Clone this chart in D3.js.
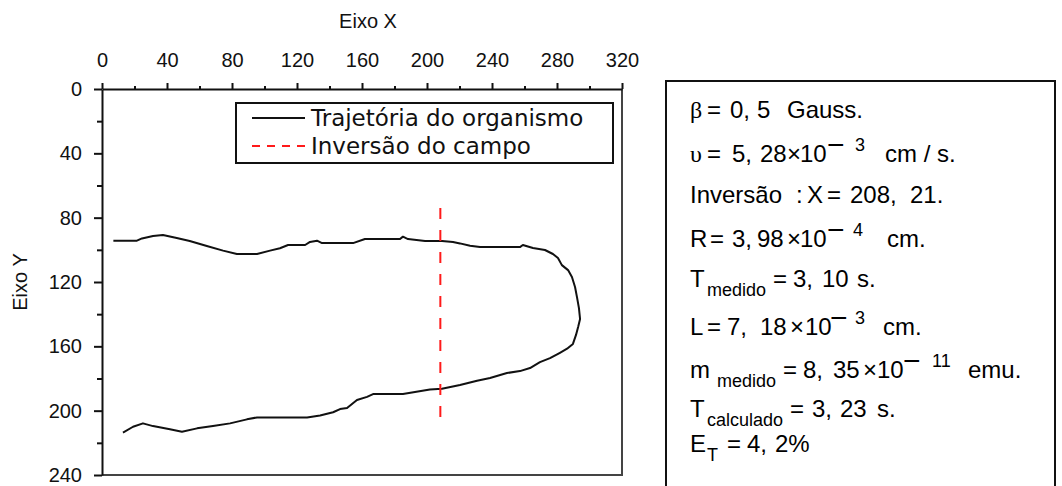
<!DOCTYPE html>
<html>
<head>
<meta charset="utf-8">
<script src="https://d3js.org/d3.v7.min.js"></script>
<style>
  body { margin: 0; background: #fff; }
  .tick text { font: 20px "Liberation Sans", Arial, sans-serif; fill: #111; }
  .axis-title { font: 20px "Liberation Sans", Arial, sans-serif; fill: #111; }
  .legend text { font: 23px "DejaVu Sans", sans-serif; fill: #111; }
  .panel text { font-family: "Liberation Sans", Arial, sans-serif; fill: #000; }
</style>
</head>
<body>
<script>
// ---- data ----
var xTicks = [0, 40, 80, 120, 160, 200, 240, 280, 320];
var xMinor = [20, 60, 100, 140, 180, 220, 260, 300];
var yTicks = [0, 40, 80, 120, 160, 200, 240];
var yMinor = [20, 60, 100, 140, 180, 220];
var legendLabels = ['Trajetória do organismo', 'Inversão do campo'];
var inversionX = 208.21;
var inversionY = [74, 204];

// trajectory (Eixo X, Eixo Y)
var trajX = [7, 21.5, 24.6, 31.4, 37.5, 46, 54, 64.5, 74.5, 83, 95.4, 103.4, 109.5, 114.5, 125, 128, 132.3, 135.4, 154.5, 161.8,
  183.4, 185.2, 188.3, 198.8, 209.2, 216, 220.3, 226.5, 232.6, 257.2, 259, 265.2, 272.6, 277.5, 280.6, 283, 286.8, 289.2, 291.1, 292.3,
  293.5, 294.2, 293, 291.7, 289.8, 286.2, 281.8, 275.7, 269.5, 263.4, 257.2, 249.2, 238.8, 230.8, 220.3, 209.2, 201.8, 185.2, 166.8, 163.1,
  156.9, 150.8, 146.5, 142.2, 134.2, 126.2, 95.4, 89.2, 78.8, 68.3, 58.5, 49.2, 41.8, 31.4, 25.2, 19.1, 12.9];
var trajY = [94.3, 94.3, 92.9, 91.4, 90.8, 92.7, 94.5, 97.6, 100.5, 102.6, 102.6, 100.5, 99, 97, 97, 95.1, 94.3, 95.8, 95.8, 93.3,
  93.3, 91.8, 93.3, 94.5, 94.5, 95.1, 96, 97.5, 98.3, 98.3, 97, 98.9, 100.1, 102.6, 105.1, 109.5, 112.6, 116.9, 123.1, 129.4,
  136.2, 143, 148, 152.9, 158.5, 161.5, 164, 167.3, 169.8, 173.5, 175.4, 176.6, 179.7, 181.4, 184.1, 186.4, 186.8, 189.7, 189.7, 191.4,
  193.4, 198.4, 199, 201, 203, 204.2, 204.2, 205.4, 207.9, 209.6, 211, 213.1, 211.6, 209.6, 207.9, 210, 213.7];

// text panel: [text, kind] per line
var panelLines = [
  [['β', 'g'], ['=', 'n'], ['0,', 'n'], ['5', 'n'], ['Gauss.', 'n']],
  [['υ', 'g'], ['=', 'n'], ['5,', 'n'], ['28', 'n'], ['×', 'n'], ['10', 'n'], ['−', 'minus'], ['3', 'sup'], ['cm / s.', 'n']],
  [['Inversão', 'n'], [':', 'n'], ['X', 'n'], ['=', 'n'], ['208,', 'n'], ['21.', 'n']],
  [['R', 'n'], ['=', 'n'], ['3,', 'n'], ['98', 'n'], ['×', 'n'], ['10', 'n'], ['−', 'minus'], ['4', 'sup'], ['cm.', 'n']],
  [['T', 'n'], ['medido', 'sub'], ['=', 'n'], ['3,', 'n'], ['10', 'n'], ['s.', 'n']],
  [['L', 'n'], ['=', 'n'], ['7,', 'n'], ['18', 'n'], ['×', 'n'], ['10', 'n'], ['−', 'minus'], ['3', 'sup'], ['cm.', 'n']],
  [['m', 'n'], ['medido', 'sub'], ['=', 'n'], ['8,', 'n'], ['35', 'n'], ['×', 'n'], ['10', 'n'], ['−', 'minus'], ['11', 'sup'], ['emu.', 'n']],
  [['T', 'n'], ['calculado', 'sub'], ['=', 'n'], ['3,', 'n'], ['23', 'n'], ['s.', 'n']],
  [['E', 'n'], ['T', 'sub'], ['=', 'n'], ['4,', 'n'], ['2%', 'n']]
];

// ---- layout ----
var w = 1062, h = 486;
var panelX = [
  [690, 707, 730, 757, 787],
  [690, 707, 732, 760, 787, 800, 827, 855, 885],
  [690, 796, 807, 827, 850, 910],
  [690, 710, 732, 757, 787, 800, 827, 853, 887],
  [690, 707, 773, 793, 822, 857],
  [690, 707, 727, 760, 790, 805, 830, 855, 883],
  [690, 717, 783, 803, 833, 863, 877, 903, 932, 968],
  [690, 707, 790, 812, 840, 877],
  [690, 707, 727, 747, 775]
];
var panelBase = [118, 162, 203, 247, 287, 335, 378, 417, 452];
var segSize = { n: '24px', g: '24px', sub: '18px', sup: '18px', minus: '30px' };
var segShift = { n: 0, g: 0, sub: 9, sup: -11, minus: -7 };

var svg = d3.select('body').append('svg')
  .attr('width', w)
  .attr('height', h);

var x = d3.scaleLinear().domain([0, 320]).range([102, 622]);
var y = d3.scaleLinear().domain([0, 240]).range([89, 475]);

//right and bottom frame of the plot
svg.append('path')
  .attr('d', 'M' + x(320) + ',' + y(0) + 'V' + y(240) + 'H' + x(0))
  .attr('fill', 'none')
  .attr('stroke', '#444')
  .attr('stroke-width', 2);

//minor ticks first, then the labelled axes
svg.append('g')
  .attr('transform', 'translate(0,' + y(0) + ')')
  .call(d3.axisTop(x).tickValues(xMinor).tickSize(3).tickSizeOuter(0).tickFormat(''))
  .call(function(g) { g.select('.domain').remove(); });
svg.append('g')
  .attr('transform', 'translate(' + x(0) + ',0)')
  .call(d3.axisLeft(y).tickValues(yMinor).tickSize(5).tickSizeOuter(0).tickFormat(''))
  .call(function(g) { g.select('.domain').remove(); });

var xAxis = svg.append('g')
  .attr('transform', 'translate(0,' + y(0) + ')')
  .call(d3.axisTop(x).tickValues(xTicks).tickSize(6).tickSizeOuter(0).tickPadding(16));
xAxis.selectAll('text').attr('dy', '0em');

var yAxis = svg.append('g')
  .attr('transform', 'translate(' + x(0) + ',0)')
  .call(d3.axisLeft(y).tickValues(yTicks).tickSize(8).tickSizeOuter(0).tickPadding(12));

svg.selectAll('.domain, .tick line')
  .attr('stroke', '#111')
  .attr('stroke-width', 2);
svg.selectAll('.tick text').attr('fill', '#111');

//axis titles
svg.append('text')
  .attr('class', 'axis-title')
  .attr('x', (x(0) + x(320)) / 2 + 6)
  .attr('y', 28)
  .attr('text-anchor', 'middle')
  .text('Eixo X');
svg.append('text')
  .attr('class', 'axis-title')
  .attr('transform', 'translate(27,' + (y(0) + y(240)) / 2 + ') rotate(-90)')
  .attr('text-anchor', 'middle')
  .text('Eixo Y');

//trajectory
var pts = trajX.map(function(d, i) { return [d, trajY[i]]; });
svg.append('path')
  .datum(pts)
  .attr('fill', 'none')
  .attr('stroke', '#111')
  .attr('stroke-width', 2)
  .attr('stroke-linejoin', 'round')
  .attr('d', d3.line().x(function(d) { return x(d[0]); }).y(function(d) { return y(d[1]); }));

//field inversion
svg.append('line')
  .attr('x1', x(inversionX)).attr('x2', x(inversionX))
  .attr('y1', y(inversionY[0])).attr('y2', y(inversionY[1]))
  .attr('stroke', '#ff1a1a')
  .attr('stroke-width', 2)
  .attr('stroke-dasharray', '11,11');

//legend
var legend = svg.append('g').attr('class', 'legend');
legend.append('rect')
  .attr('x', 236).attr('y', 103)
  .attr('width', 377).attr('height', 60)
  .attr('fill', 'none')
  .attr('stroke', '#111')
  .attr('stroke-width', 2);
legend.selectAll('line').data(legendLabels).enter().append('line')
  .attr('x1', 252).attr('x2', 305)
  .attr('y1', function(d, i) { return 118 + i * 28; })
  .attr('y2', function(d, i) { return 118 + i * 28; })
  .attr('stroke', function(d, i) { return i ? '#ff1a1a' : '#111'; })
  .attr('stroke-width', 2)
  .attr('stroke-dasharray', function(d, i) { return i ? '8,7' : null; });
legend.selectAll('text').data(legendLabels).enter().append('text')
  .attr('x', 311)
  .attr('y', function(d, i) { return 126 + i * 28; })
  .text(function(d) { return d; });

//parameter panel
var panel = svg.append('g').attr('class', 'panel');
panel.append('rect')
  .attr('x', 666).attr('y', 81)
  .attr('width', 389).attr('height', 420)
  .attr('fill', 'none')
  .attr('stroke', '#111')
  .attr('stroke-width', 2);

panelLines.forEach(function(line, li) {
  var t = panel.append('text');
  line.forEach(function(seg, si) {
    var kind = seg[1];
    t.append('tspan')
      .attr('x', panelX[li][si])
      .attr('y', panelBase[li] + segShift[kind])
      .style('font-size', segSize[kind])
      .style('font-family', kind === 'g' ? '"Liberation Serif", "DejaVu Serif", serif' : null)
      .text(seg[0]);
  });
});
</script>
</body>
</html>
